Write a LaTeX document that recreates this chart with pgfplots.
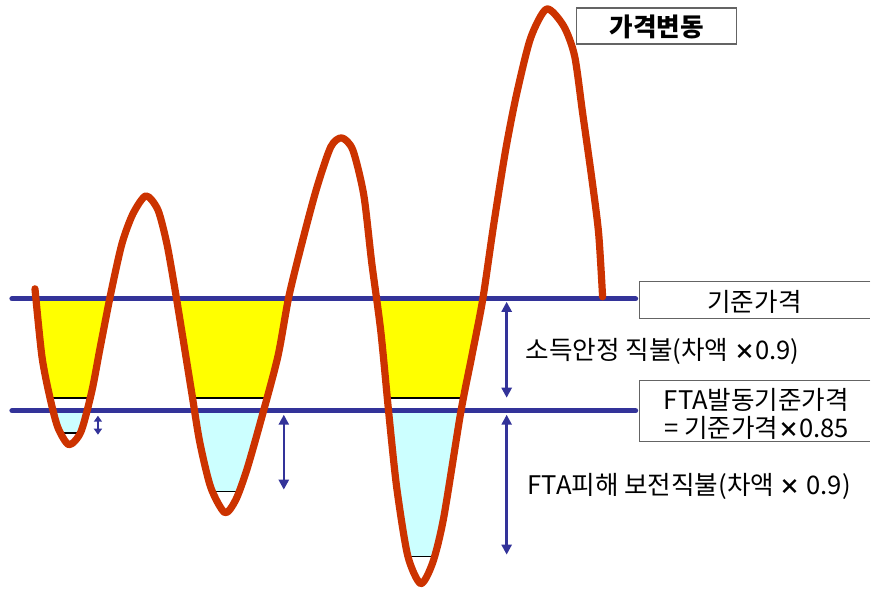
\documentclass[border=0pt]{standalone}
\usepackage{pgfplots}
\pgfplotsset{compat=1.18}
\usepackage{fontspec}
\newfontfamily\kr{Noto Sans CJK KR}
\usetikzlibrary{arrows.meta}
\definecolor{curvered}{RGB}{204,51,0}
\definecolor{lineblue}{RGB}{51,51,153}
\definecolor{fillyellow}{RGB}{255,255,0}
\definecolor{fillcyan}{RGB}{204,255,255}
\definecolor{boxgray}{RGB}{100,100,100}
\newcommand{\tm}{{\bfseries\fontsize{10.5}{12}\selectfont ×}}
\newcommand{\fs}{\kr\fontsize{12.8}{15}\selectfont}
\begin{document}
\begin{tikzpicture}
\begin{axis}[x=0.5pt, y=0.5pt, y dir=reverse,
  xmin=0, xmax=871, ymin=0, ymax=589,
  hide axis, clip=false]
\path (axis cs:0,0) rectangle (axis cs:871,589);
% yellow areas
\addplot[fill=fillyellow, draw=none] coordinates {(36,300) (42,357) (50,398) (90,398) (100,349) (110,300)} -- cycle;
\addplot[fill=fillyellow, draw=none] coordinates {(177,300) (183,338) (193,398) (267,398) (278,357) (289,300)} -- cycle;
\addplot[fill=fillyellow, draw=none] coordinates {(377,300) (381,331) (388,398) (464,398) (472,357) (483,300)} -- cycle;
% cyan areas
\addplot[fill=fillcyan, draw=none] coordinates {(54,413) (61,433) (80,433) (86,413)} -- cycle;
\addplot[fill=fillcyan, draw=none] coordinates {(195,413) (200,443) (212,492) (238,492) (247,470) (263,413)} -- cycle;
\addplot[fill=fillcyan, draw=none] coordinates {(389,413) (397,488) (408,557) (434,557) (444,518) (461,413)} -- cycle;
% black bottom lines
\addplot[black, line width=0.8pt] coordinates {(50,398) (90,398)};
\addplot[black, line width=0.8pt] coordinates {(193,398) (267,398)};
\addplot[black, line width=0.8pt] coordinates {(388,398) (464,398)};
\addplot[black, line width=0.8pt] coordinates {(61,433) (80,433)};
\addplot[black, line width=0.8pt] coordinates {(212,492) (238,492)};
\addplot[black, line width=0.8pt] coordinates {(408,557) (434,557)};
% blue horizontal lines
\addplot[lineblue, line width=2.6pt, line cap=round] coordinates {(12,299) (636,299)};
\addplot[lineblue, line width=2.6pt, line cap=round] coordinates {(12,411) (636,411)};
% arrows
\addplot[lineblue, line width=1.3pt, {Triangle[width=5pt,length=5pt]}-{Triangle[width=5pt,length=5pt]}] coordinates {(507,302) (507,398)};
\addplot[lineblue, line width=1.3pt, {Triangle[width=5pt,length=5pt]}-{Triangle[width=5pt,length=5pt]}] coordinates {(507,415) (507,555)};
\addplot[lineblue, line width=1.3pt, {Triangle[width=5pt,length=5pt]}-{Triangle[width=5pt,length=5pt]}] coordinates {(284,415) (284,490)};
\addplot[lineblue, line width=1.0pt, {Triangle[width=4pt,length=3pt]}-{Triangle[width=4pt,length=3pt]}] coordinates {(98,416) (98,435)};
% price curve
\addplot[curvered, line width=3.6pt, line cap=round, line join=round, smooth, tension=0.45] coordinates {
(35,289) (42,357) (50,398) (58,428) (69,445) (81,432) (92,391) (100,349) (111,293)
(122,244) (133,214) (146,196) (158,210) (167,244) (175,289) (183,338) (192,394)
(200,443) (211,488) (225,513) (236,500) (247,470) (261,421) (278,357) (289,297)
(303,240) (317,188) (331,147) (342,138) (353,150) (364,195) (372,263) (381,331)
(389,413) (397,488) (408,556) (421,584) (433,563) (444,518) (461,413) (472,357)
(483,300) (494,225) (506,150) (517,94) (531,38) (547,9) (564,26) (575,56)
(583,113) (592,177) (599,233) (603,297)};
% boxes
\draw[boxgray, line width=0.6pt] (axis cs:577,8) rectangle (axis cs:737,44);
\draw[boxgray, line width=0.6pt] (axis cs:871,282) -- (axis cs:640,282) -- (axis cs:640,319) -- (axis cs:871,319);
\draw[boxgray, line width=0.6pt] (axis cs:871,381) -- (axis cs:640,381) -- (axis cs:640,442) -- (axis cs:871,442);
% texts
\node[font=\fs\bfseries] at (axis cs:657,27) {가격변동};
\node[font=\fs] at (axis cs:755,302) {기준가격};
\node[font=\fs, anchor=west] at (axis cs:519,352) {소득안정 직불(차액 \tm0.9)};
\node[font=\fs] at (axis cs:757,400) {FTA발동기준가격};
\node[font=\fs] at (axis cs:757,428) {= 기준가격\tm0.85};
\node[font=\fs, anchor=west] at (axis cs:521,487) {FTA피해 보전직불(차액 \tm\ 0.9)};
\end{axis}
\end{tikzpicture}
\end{document}
